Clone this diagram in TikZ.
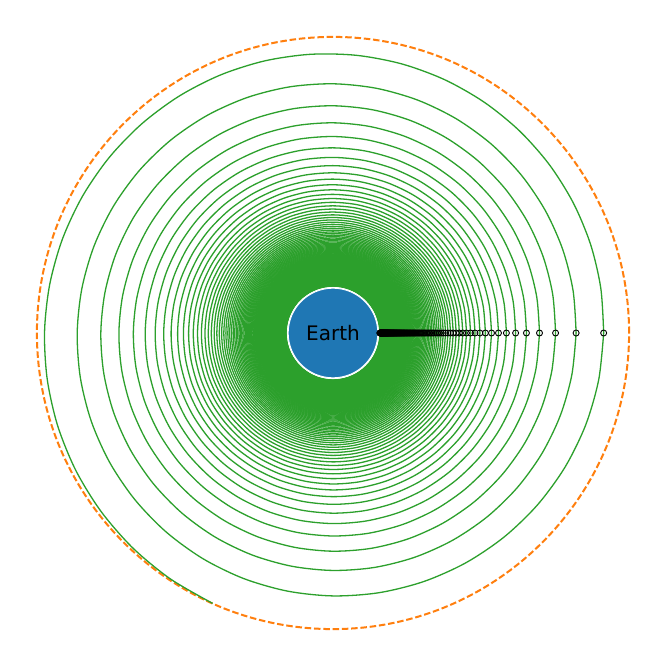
\documentclass[tikz,border=0pt]{standalone}
\usepackage{fontspec}
\setsansfont{DejaVu Sans}
\usepackage{tikz}
\definecolor{orbitgreen}{HTML}{2CA02C}
\definecolor{geoorange}{HTML}{FF7F0E}
\definecolor{earthblue}{HTML}{1F77B4}
\tikzset{
  spiral/.style={draw=orbitgreen, line width=1.3pt, line join=round},
  geo/.style={draw=geoorange, line width=2pt, dash pattern=on 6.5pt off 2.8pt},
  planet/.style={circle, fill=earthblue, draw=white, line width=0.9pt, inner sep=0pt, minimum size=89.6pt, font=\sffamily\fontsize{20}{24}\selectfont, text=black},
  crossing/.style={draw=black, line width=0.9pt},
}
% 1 unit = 1000 km, w = 1000/r^2 falls linearly per revolution
\newcommand{\wzero}{22.424}
\newcommand{\wstep}{0.16112}
\begin{document}
\begin{tikzpicture}[x=7.022pt, y=7.022pt]
  \useasboundingbox[fill=white] (-47.42,-47.42) rectangle (47.42,47.42);
  % target orbit
  \draw[geo] (0,0) circle[radius=42.164];
  % transfer spiral, one revolution at a time
  \foreach \n in {0,...,134}{
    \draw[spiral] plot[smooth, samples=37, domain=0:360, variable=\t] ({\t}:{sqrt(1000/(\wzero-\wstep*(\n+\t/360)))});
  }
  \draw[spiral] plot[smooth, samples=27, domain=0:246, variable=\t] ({\t}:{sqrt(1000/(\wzero-\wstep*(135+\t/360)))});
  \node[planet] (earth) at (0,0) {Earth};
  % one mark per completed revolution
  \foreach \n in {0,...,135}{
    \draw[crossing] ({sqrt(1000/(\wzero-\wstep*\n))},0) circle[radius=3pt];
  }
\end{tikzpicture}
\end{document}
